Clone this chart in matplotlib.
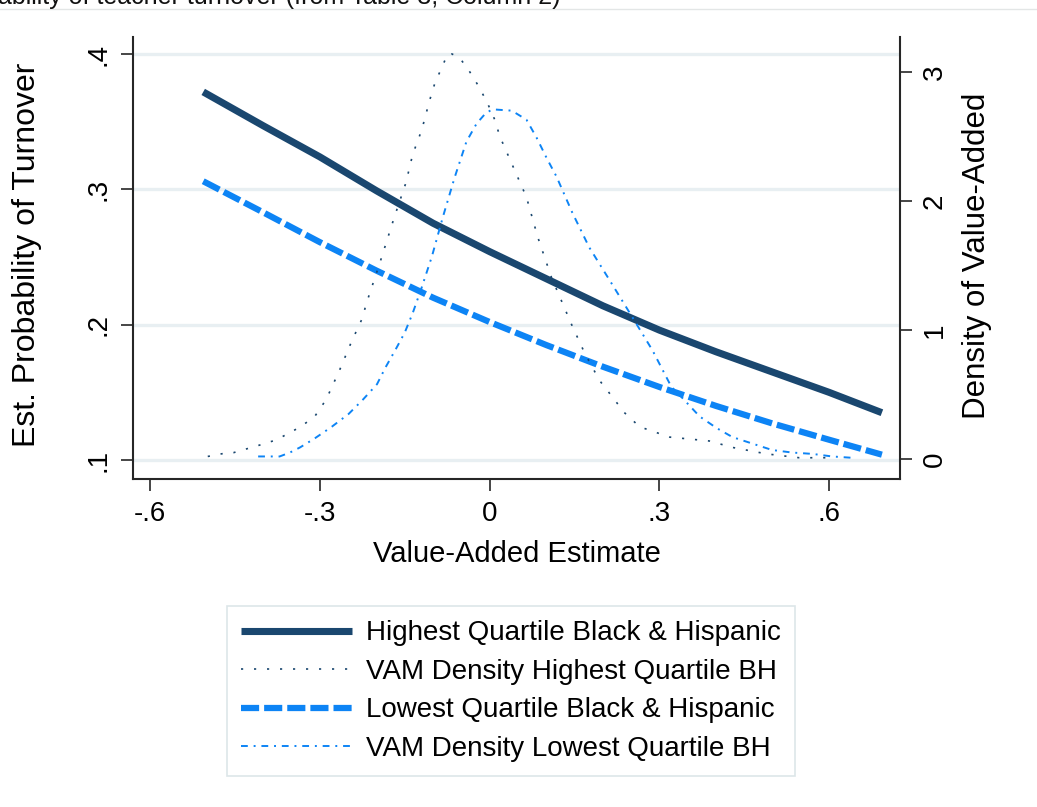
import matplotlib.pyplot as plt
from matplotlib.lines import Line2D

plt.rcParams['font.family'] = ['Liberation Sans', 'DejaVu Sans']

# predicted probability of turnover by value-added (left axis)
va_grid = [-0.506, -0.4, -0.3, -0.2, -0.1, 0.0, 0.1, 0.2, 0.3, 0.4, 0.5, 0.6, 0.693]
prob_high_bh = [0.372, 0.347, 0.324, 0.299, 0.275, 0.254, 0.234, 0.214, 0.196, 0.180, 0.165, 0.150, 0.135]
prob_low_bh = [0.306, 0.283, 0.261, 0.240, 0.220, 0.202, 0.185, 0.169, 0.154, 0.140, 0.127, 0.115, 0.104]

# kernel density of value-added (right axis)
dens_hi_x = [-0.498, -0.462, -0.452, -0.397, -0.376, -0.334, -0.309, -0.289, -0.265, -0.244,
             -0.224, -0.219, -0.194, -0.168, -0.148, -0.136, -0.120, -0.106, -0.097, -0.074,
             -0.067, -0.053, -0.035, -0.021, -0.005, 0.009, 0.018, 0.028, 0.065, 0.085,
             0.109, 0.145, 0.168, 0.194, 0.217, 0.238, 0.265, 0.318, 0.388, 0.429,
             0.489, 0.547, 0.612]
dens_hi_y = [0.02, 0.05, 0.05, 0.12, 0.15, 0.25, 0.33, 0.46, 0.69, 0.91,
             1.10, 1.19, 1.52, 1.88, 2.14, 2.36, 2.55, 2.78, 2.91, 3.14,
             3.14, 3.11, 3.00, 2.90, 2.77, 2.63, 2.50, 2.40, 2.03, 1.72,
             1.41, 1.04, 0.82, 0.61, 0.48, 0.36, 0.25, 0.17, 0.14, 0.09,
             0.04, 0.01, 0.01]
dens_lo_x = [-0.409, -0.371, -0.353, -0.335, -0.309, -0.279, -0.249, -0.224, -0.199, -0.184,
             -0.166, -0.150, -0.136, -0.120, -0.102, -0.083, -0.062, -0.041, -0.023, -0.007,
             0.005, 0.039, 0.065, 0.083, 0.101, 0.118, 0.146, 0.176, 0.217, 0.252,
             0.288, 0.321, 0.339, 0.371, 0.401, 0.429, 0.464, 0.499, 0.535, 0.570,
             0.605, 0.639]
dens_lo_y = [0.02, 0.02, 0.05, 0.09, 0.16, 0.25, 0.35, 0.46, 0.58, 0.71,
             0.85, 0.98, 1.13, 1.33, 1.57, 1.87, 2.18, 2.46, 2.60, 2.68,
             2.71, 2.70, 2.63, 2.49, 2.33, 2.19, 1.91, 1.64, 1.35, 1.10,
             0.84, 0.56, 0.48, 0.33, 0.24, 0.17, 0.12, 0.07, 0.05, 0.04,
             0.02, 0.01]

x_ticks = [-0.6, -0.3, 0.0, 0.3, 0.6]
x_ticklabels = ['-.6', '-.3', '0', '.3', '.6']
y_ticks = [0.1, 0.2, 0.3, 0.4]
y_ticklabels = ['.1', '.2', '.3', '.4']
d_ticks = [0, 1, 2, 3]
d_ticklabels = ['0', '1', '2', '3']
labels = ['Highest Quartile Black & Hispanic', 'VAM Density Highest Quartile BH',
          'Lowest Quartile Black & Hispanic', 'VAM Density Lowest Quartile BH']

navy = '#1a476f'
blue = '#0d84f5'
spine_c = '#262626'

fig = plt.figure(figsize=(10.37, 8.07), dpi=100)
ax = fig.add_axes([0.1283, 0.4064, 0.7396, 0.5478])

l1, = ax.plot(va_grid, prob_high_bh, color=navy, lw=5.1, solid_capstyle='butt', zorder=3)
l3, = ax.plot(va_grid, prob_low_bh, color=blue, lw=4.5, dashes=(2.9, 0.8), zorder=3)

ax2 = ax.twinx()
l2, = ax2.plot(dens_hi_x, dens_hi_y, color=navy, lw=1.2, dashes=(1.3, 6.5))
l4, = ax2.plot(dens_lo_x, dens_lo_y, color=blue, lw=1.4, dashes=(3.5, 3, 1, 3))

ax.set_xlim(-0.630, 0.725)
ax.set_ylim(0.086, 0.4126)
ax2.set_ylim(-0.155, 3.271)

ax.set_xticks(x_ticks)
ax.set_xticklabels(x_ticklabels)
ax.set_yticks(y_ticks)
ax.set_yticklabels(y_ticklabels, rotation=90, va='center')
ax2.set_yticks(d_ticks)
ax2.set_yticklabels(d_ticklabels, rotation=90, va='center')

ax.grid(axis='y', color='#e8eff2', lw=2.4)
ax.set_axisbelow(True)

for a in (ax, ax2):
    a.tick_params(direction='out', length=8.5, width=1.2, color=spine_c,
                  labelsize=20, pad=7)
    a.spines['top'].set_visible(False)
    for s in a.spines.values():
        s.set_color(spine_c)
        s.set_linewidth(1.5)
ax.spines['right'].set_visible(False)
ax2.spines['left'].set_visible(False)
ax2.spines['bottom'].set_visible(False)

ax.set_xlabel('Value-Added Estimate', fontsize=21)
ax.xaxis.set_label_coords(0.5, -0.17)
ax.xaxis.label.set_va('center')
ax.set_ylabel('Est. Probability of Turnover', fontsize=23)
ax.yaxis.set_label_coords(-0.138, 0.507)
ax.yaxis.label.set_va('center')
ax2.set_ylabel('Density of Value-Added', fontsize=22.5, rotation=90)
ax2.yaxis.set_label_coords(1.100, 0.505)
ax2.yaxis.label.set_va('center')

leg = fig.legend([l1, l2, l3, l4], labels, loc='center', bbox_to_anchor=(0.4928, 0.1437),
                 fontsize=20, frameon=True, fancybox=False, edgecolor='#dde6e9',
                 framealpha=1, handlelength=4.0, handletextpad=0.5,
                 labelspacing=0.45, borderpad=0.5)
leg.get_frame().set_linewidth(1.2)

# page header cut off at the top of the screenshot
fig.text(-0.002, 1 - 4 / 807, 'ability of teacher turnover (from Table 3, Column 2)',
         fontsize=18, va='baseline', ha='left', color='#111111')
fig.add_artist(Line2D([0, 1], [1 - 9 / 807] * 2, transform=fig.transFigure,
                      color='#e3e6e6', lw=1))

fig.savefig('out.png', dpi=100)
